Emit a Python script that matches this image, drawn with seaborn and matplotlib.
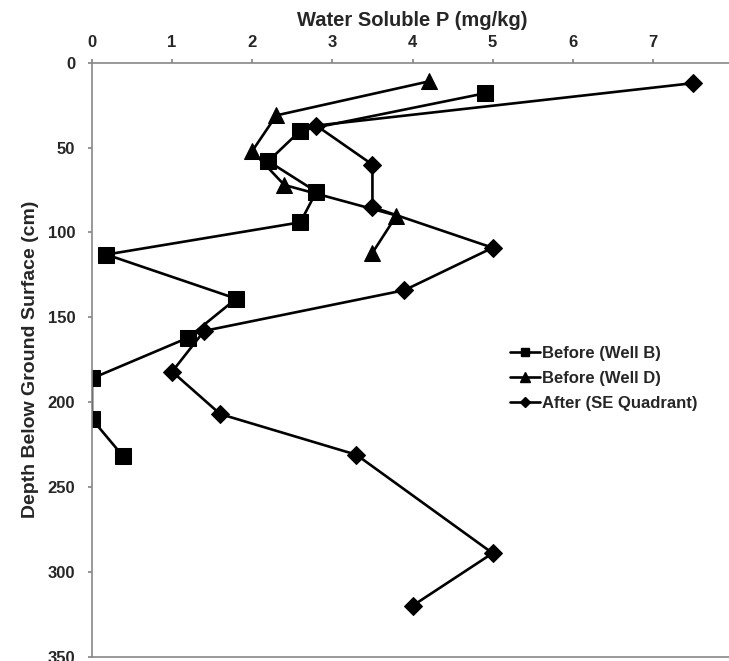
import matplotlib
matplotlib.use("Agg")
import matplotlib.pyplot as plt
import seaborn as sns
import pandas as pd
from matplotlib.lines import Line2D

sns.set_theme(style="white")
plt.rcParams['font.family'] = ['Liberation Sans', 'DejaVu Sans']
plt.rcParams['font.weight'] = 'bold'

# Data
wellB_p = [4.9, 2.6, 2.2, 2.8, 2.6, 0.18, 1.8, 1.2, 0.0, 0.0, 0.39]
wellB_depth = [18, 40, 58, 76, 94, 113, 139, 162, 186, 210, 232]
wellD_p = [4.2, 2.3, 2.0, 2.4, 3.8, 3.5]
wellD_depth = [11, 31, 52, 72, 90, 112]
after_p = [7.5, 2.8, 3.5, 3.5, 5.0, 3.9, 1.4, 1.0, 1.6, 3.3, 5.0, 4.0]
after_depth = [12, 37, 60, 85, 109, 134, 158, 182, 207, 231, 289, 320]
labels = ["Before (Well B)", "Before (Well D)", "After (SE Quadrant)"]
x_ticks = [0, 1, 2, 3, 4, 5, 6, 7, 8]
y_ticks = [0, 50, 100, 150, 200, 250, 300, 350]

fig = plt.figure(figsize=(7.29, 6.61), dpi=100)
ax = fig.add_axes([92/729, 1 - 656.7/661, (733 - 92)/729, (656.7 - 62.8)/661])

series = [
    (wellB_p, wellB_depth, 's', 11, 6),
    (wellD_p, wellD_depth, '^', 11, 7),
    (after_p, after_depth, 'D', 9, 5),
]
handles = []
for (xs, ys, mk, ms, lms), lab in zip(series, labels):
    df = pd.DataFrame({"p": xs, "depth": ys})
    sns.lineplot(data=df, x="p", y="depth", sort=False, estimator=None,
                 color="black", linewidth=1.9, marker=mk, markersize=ms,
                 markeredgecolor="black", markerfacecolor="black", ax=ax)
    handles.append(Line2D([0], [0], color="black", linewidth=1.9, marker=mk,
                          markersize=lms, markerfacecolor="black",
                          markeredgecolor="black"))

ax.set_xlim(0, 8)
ax.set_ylim(350, 0)
ax.set_xticks(x_ticks)
ax.set_yticks(y_ticks)
ax.xaxis.tick_top()
ax.xaxis.set_label_position("top")
ax.tick_params(axis='x', which='both', top=True, bottom=False, direction='out',
               length=3, color='#888888', labelsize=12, pad=6)
ax.tick_params(axis='y', which='both', left=True, direction='out',
               length=3, color='#888888', labelsize=12, pad=9)
for lbl in ax.get_xticklabels() + ax.get_yticklabels():
    lbl.set_fontweight('bold')
for s in ax.spines.values():
    s.set_color('#888888')
    s.set_linewidth(1.2)

ax.set_xlabel("Water Soluble P (mg/kg)", fontsize=14.5, fontweight='bold', labelpad=7)
ax.set_ylabel("Depth Below Ground Surface (cm)", fontsize=14, fontweight='bold', labelpad=6)

ax.legend(handles, labels, loc='center left',
          bbox_to_anchor=((510 - 92) / 641, 1 - (378.5 - 62.8) / 593.9),
          frameon=False, handlelength=1.8, handletextpad=0.1,
          labelspacing=0.6, borderaxespad=0, borderpad=0,
          prop={'weight': 'bold', 'size': 12})

fig.savefig("out.png", dpi=100)
